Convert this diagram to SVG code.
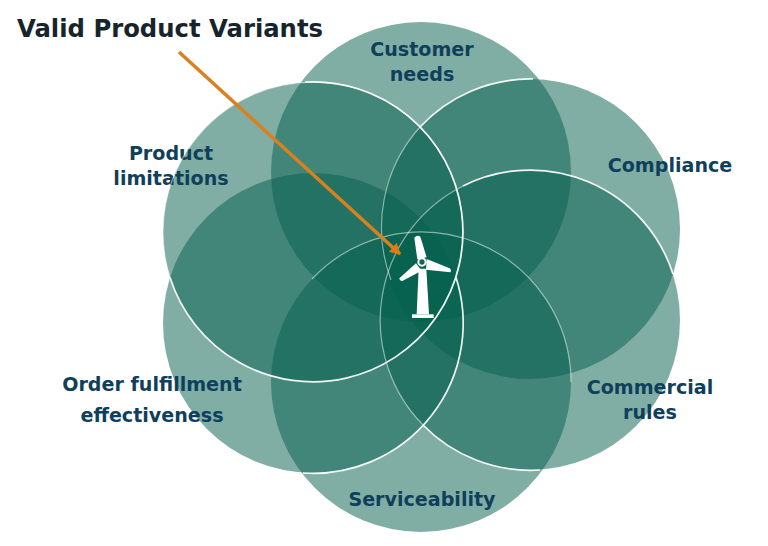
<svg xmlns="http://www.w3.org/2000/svg" width="768" height="546" viewBox="0 0 768 546">
<style>
.c{fill:#05604f;fill-opacity:.51}
.b{fill:none;stroke:#fff;stroke-width:1.7;stroke-opacity:.92}
.d{fill:none;stroke:#fff;stroke-width:1.2;stroke-opacity:.5}
.l{font-family:"DejaVu Sans",sans-serif;font-weight:700;font-size:19.1px;fill:#0f3f5a;text-anchor:middle}
.t{font-family:"DejaVu Sans",sans-serif;font-weight:700;font-size:24.3px;fill:#16242c}
</style>
<defs><marker id="ah" markerUnits="userSpaceOnUse" markerWidth="12" markerHeight="12" refX="10" refY="6" orient="auto"><path d="M0 0L11 6L0 12Z" fill="#e07a12"/></marker></defs>
<rect width="768" height="546" fill="#fff"/>
<g id="needs"><circle class="c" cx="421" cy="172" r="150"/><text class="l" x="422" y="56">Customer</text><text class="l" x="422" y="81">needs</text></g>
<g id="compliance"><circle class="c" cx="530" cy="229" r="150"/><text class="l" x="670" y="172">Compliance</text></g>
<g id="rules"><circle class="c" cx="530" cy="320" r="150"/><text class="l" x="650" y="394">Commercial</text><text class="l" x="650" y="419">rules</text></g>
<g id="service"><circle class="c" cx="421" cy="382" r="150"/><text class="l" x="422" y="506">Serviceability</text></g>
<g id="order"><circle class="c" cx="313" cy="323" r="150"/><text class="l" x="152" y="391">Order fulfillment</text><text class="l" x="152" y="422">effectiveness</text></g>
<g id="limits"><circle class="c" cx="313" cy="232" r="150"/><text class="l" x="171" y="160">Product</text><text class="l" x="171" y="185">limitations</text></g>
<g id="outlines">
<path class="d" d="M420 127A150 150 0 0 0 391 280"/>
<path class="d" d="M312 279A150 150 0 0 1 571 382"/>
<path class="d" d="M423 425A150 150 0 0 1 463 186"/>
<path class="d" d="M456 277.5A150 150 0 1 0 170 277.5"/>
<path class="b" d="M420 127A150 150 0 0 1 533 79"/>
<path class="b" d="M463 186A150 150 0 0 1 673 274"/>
<path class="b" d="M540 470A150 150 0 0 1 423 425"/>
<path class="b" d="M303 473A150 150 0 0 0 456 277.5"/>
<path class="b" d="M305 82A150 150 0 1 1 170 277.5"/>
</g>
<g id="turbine" transform="translate(340 200) scale(.3333)" fill="#fff">
<path d="M223 113Q232 103 241 110L260 172L232 178Z"/>
<path d="M260 177L329 205Q336 211 331 217L258 209Z"/>
<path d="M178 235L228 190L245 212L187 243Q179 243 178 235Z"/>
<path d="M236 206H259L267 343H230Z"/>
<rect x="216" y="343" width="65" height="11"/>
<circle cx="246" cy="186" r="11" fill="#0d6a58" stroke="#fff" stroke-width="6"/>
</g>
<g id="connectors"><line x1="179" y1="52" x2="400" y2="254" stroke="#d9801f" stroke-width="3.5" marker-end="url(#ah)"/></g>
<text class="t" x="17" y="37">Valid Product Variants</text>
</svg>
